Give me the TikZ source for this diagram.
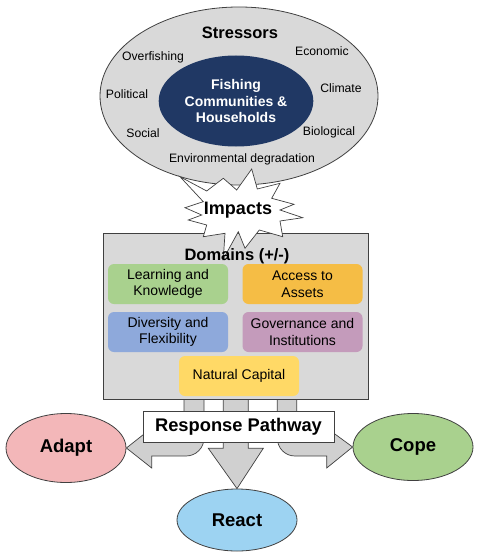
\documentclass[tikz,border=0pt]{standalone}
\usepackage{fontspec}
\setmainfont{Liberation Sans}
\usetikzlibrary{shapes,positioning,calc}

\definecolor{linegray}{HTML}{404040}
\definecolor{panelgray}{HTML}{D9D9D9}
\definecolor{arrowgray}{HTML}{D0D0D0}
\definecolor{navy}{HTML}{203864}
\definecolor{learngreen}{HTML}{A9D18E}
\definecolor{assetorange}{HTML}{F5BD45}
\definecolor{diverseblue}{HTML}{8EA9DB}
\definecolor{govmauve}{HTML}{C49BBB}
\definecolor{naturalyellow}{HTML}{FFD966}
\definecolor{adaptpink}{HTML}{F3B7B9}
\definecolor{reactblue}{HTML}{9DD3F2}

\tikzset{
  domainbox/.style={rectangle, rounded corners=6pt, minimum width=120pt, minimum height=40pt, align=center, font=\fontsize{14}{16.7}\selectfont},
  stresslabel/.style={font=\fontsize{12.2}{14}\selectfont},
  outcome/.style={draw=linegray, ellipse, line width=0.8pt, minimum width=120pt, font=\bfseries\fontsize{18.5}{21}\selectfont},
  blockarrow/.style={draw=linegray, fill=arrowgray, line width=0.7pt},
}

\begin{document}
\begin{tikzpicture}[x=1pt, y=-1pt]
\useasboundingbox (0,0) rectangle (480,559);

% Response outcomes
\node[outcome, minimum height=69pt, fill=adaptpink] (adapt) at (66,448) {Adapt};
\node[outcome, minimum height=67pt, fill=learngreen] (cope) at (413,447) {Cope};
\node[outcome, minimum height=62pt, fill=reactblue] (react) at (237,520) {React};

% Response arrows
\draw[blockarrow] (184,399) -- (184,424) .. controls (184,433) and (180,438) .. (171,438) -- (151.7,438) -- (151.7,428) -- (adapt.east) -- (151.7,468) -- (151.7,456) -- (186,456) .. controls (196,456) and (204,448) .. (204,438) -- (204,399) -- cycle;
\draw[blockarrow] (296.7,399) -- (296.7,424) .. controls (296.7,433) and (300.7,438) .. (309.7,438) -- (326.7,438) -- (326.7,428) -- (cope.west) -- (326.7,468) -- (326.7,456) -- (295,456) .. controls (285,456) and (277.3,448) .. (277.3,438) -- (277.3,399) -- cycle;
\draw[blockarrow] (223.3,399) -- (223.3,448.3) -- (208.3,448.3) -- (react.north) -- (263.3,448.3) -- (248.3,448.3) -- (248.3,399) -- cycle;

% Stressors
\node[draw=linegray, ellipse, line width=0.8pt, minimum width=278pt, minimum height=178pt, fill=panelgray] (stress) at (239,96) {};
\node[ellipse, minimum width=154pt, minimum height=91pt, fill=navy, text=white, align=center, font=\bfseries\fontsize{14}{16.5}\selectfont] (community) at (236,101) {Fishing\\Communities \&\\Households};
\node[font=\bfseries\fontsize{16.5}{19}\selectfont] (stresstitle) at (240,33) {Stressors};
\node[stresslabel] (overfishing) at (153,57) {Overfishing};
\node[stresslabel] (economic) at (322,51) {Economic};
\node[stresslabel] (political) at (127,94) {Political};
\node[stresslabel] (climate) at (341,88) {Climate};
\node[stresslabel] (social) at (143,133) {Social};
\node[stresslabel] (biological) at (329,132) {Biological};
\node[stresslabel] (environmental) at (242,159) {Environmental degradation};

% Domains
\node[draw=linegray, rectangle, line width=0.9pt, minimum width=265pt, minimum height=166pt, fill=panelgray] (domains) at (235.5,316) {};
\node[domainbox, fill=learngreen] (learning) at (168,284) {Learning and\\Knowledge};
\node[domainbox, fill=assetorange] (access) at (302.5,284) {Access to\\Assets};
\node[domainbox, fill=diverseblue] (diversity) at (168,332) {Diversity and\\Flexibility};
\node[domainbox, fill=govmauve] (governance) at (302.5,332) {Governance and\\Institutions};
\node[domainbox, fill=naturalyellow] (natural) at (239,376) {Natural Capital};

% Impacts starburst
\draw[fill=white, draw=linegray, line width=0.7pt] (180,176.7) -- (206.7,191) -- (223.3,178.3) -- (236.7,190) -- (251.7,169) -- (257.3,189) -- (280,183.3) -- (271.7,198.3) -- (294,204.3) -- (280,210) -- (302.7,217.7) -- (280,221) -- (282.7,236.7) -- (259.3,230) -- (245,248.3) -- (238.3,231.7) -- (223.3,259) -- (225,233.3) -- (203.3,236.7) -- (206.7,225) -- (188.3,220) -- (201.7,215) -- (185,207.7) -- (203.3,201.7) -- cycle;
\node[font=\bfseries\fontsize{18}{21}\selectfont] (impacts) at (238,210) {Impacts};
\node[font=\bfseries\fontsize{16.5}{19}\selectfont] (domaintitle) at (237,256) {Domains (+/-)};

% Response pathway
\node[draw=linegray, rectangle, line width=0.7pt, minimum width=191pt, minimum height=31pt, fill=white, font=\bfseries\fontsize{18.3}{21}\selectfont] (pathway) at (238.5,426.5) {Response Pathway};

\end{tikzpicture}
\end{document}
